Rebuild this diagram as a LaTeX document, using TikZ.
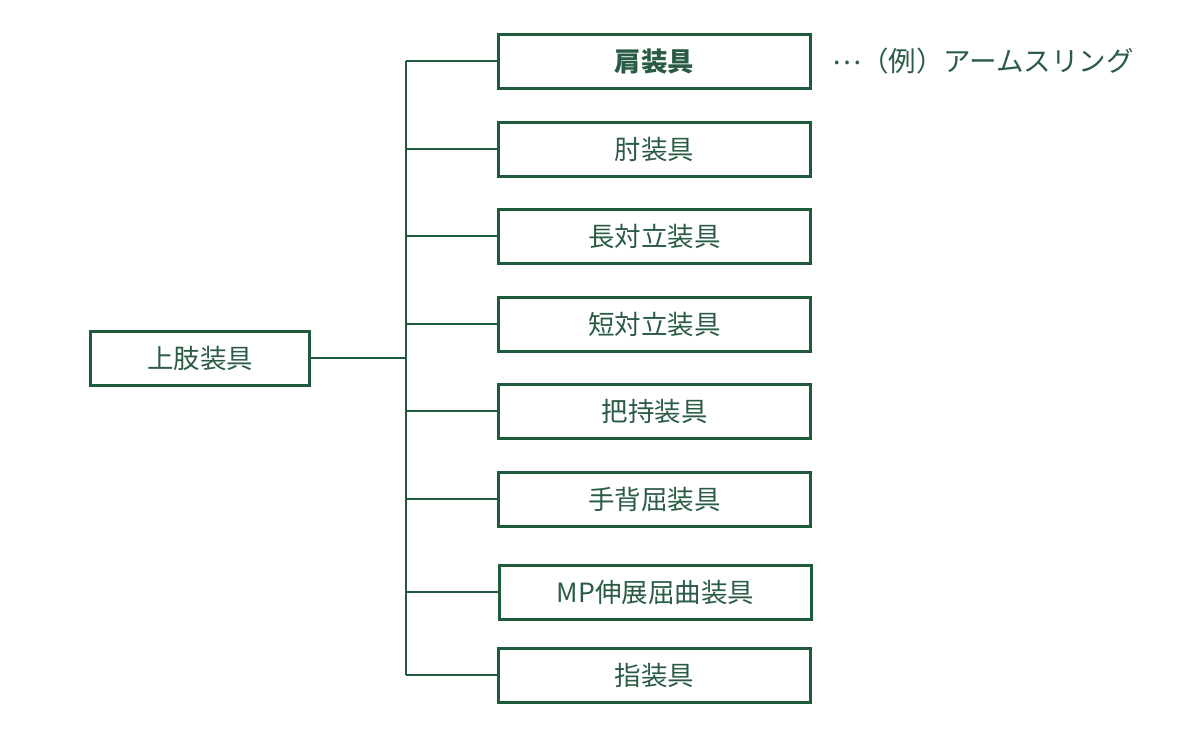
\documentclass[tikz,border=0pt]{standalone}
\usepackage{fontspec}
\setmainfont{Noto Sans CJK JP}
\usepackage{xcolor}
\usepackage{tikz}
\usetikzlibrary{positioning}

\definecolor{boxgreen}{HTML}{1E5A3C}
\definecolor{textgreen}{HTML}{2A5C45}

\begin{document}
\begin{tikzpicture}[
    x=1pt, y=-1pt,
    item/.style={rectangle, draw=boxgreen, line width=3pt, fill=white,
        minimum width=312pt, minimum height=54pt, inner sep=0pt,
        text=textgreen, font=\fontsize{26.5}{30}\selectfont},
    root/.style={item, minimum width=219pt},
    link/.style={draw=boxgreen, line width=2pt},
    note/.style={anchor=west, inner sep=0pt, text=textgreen,
        font=\fontsize{27.5}{30}\selectfont}
]
\useasboundingbox (0,0) rectangle (1200,740);

% Root and trunk
\node[root] (limb) at (200,358) {上肢装具};
\coordinate (trunk) at (406,358);

% Orthoses
\node[item, font=\fontsize{26.5}{30}\selectfont\bfseries] (shoulder) at (654.5,61) {肩装具};
\node[item] (elbow) at (654.5,149) {肘装具};
\node[item] (longopp) at (654.5,236) {長対立装具};
\node[item] (shortopp) at (654.5,324) {短対立装具};
\node[item] (grasp) at (654.5,411) {把持装具};
\node[item] (wrist) at (654.5,499) {手背屈装具};
\node[item] (mp) at (655.5,592) {MP伸展屈曲装具};
\node[item] (finger) at (654.5,675) {指装具};

% Example
\node[note] (example) at (832,61) {\raisebox{7pt}{…}（例）アームスリング};

% Connectors
\draw[link] (limb.east) -- (trunk);
\draw[link] (shoulder.west -| trunk) -- (finger.west -| trunk);
\foreach \leaf in {shoulder, elbow, longopp, shortopp, grasp, wrist, mp, finger} {
    \draw[link] (\leaf.west -| trunk) -- (\leaf.west);
}

\end{tikzpicture}
\end{document}
